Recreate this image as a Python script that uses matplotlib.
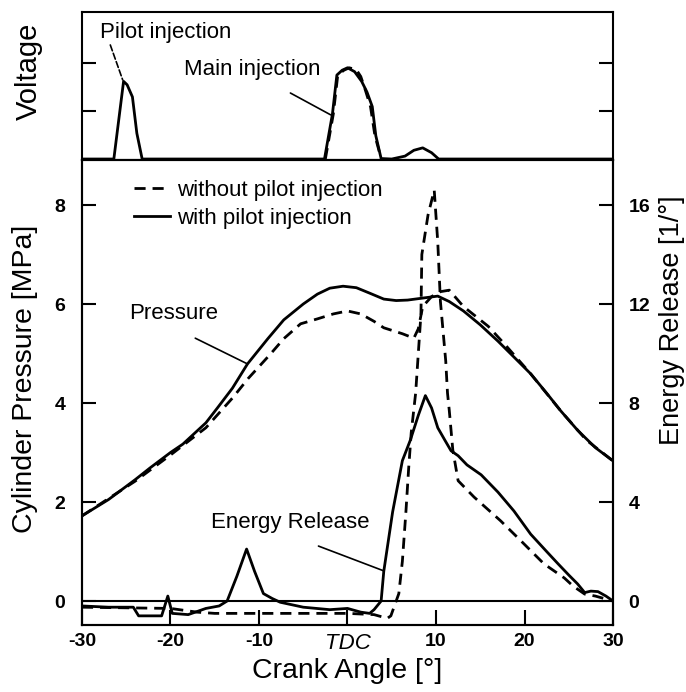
import numpy as np
import matplotlib
matplotlib.use("Agg")
import matplotlib.pyplot as plt

plt.rcParams['font.family'] = ['Liberation Sans', 'DejaVu Sans']

# --- voltage trace (top panel) ---
volt_crank = [-30, -26.4, -25.3, -24.9, -24.3, -23.8, -23.2, -2.6, -1.7, -1.2, -0.6, 0.0,
              0.8, 1.6, 2.2, 2.8, 3.2, 3.8, 5.0, 6.5, 7.5, 8.5, 9.5, 10.3, 30]
volt_pilot = [0.02, 0.02, 1.62, 1.55, 1.3, 0.55, 0.02, 0.02, 0.95, 1.75, 1.85, 1.9,
              1.82, 1.62, 1.4, 1.1, 0.5, 0.03, 0.02, 0.08, 0.2, 0.25, 0.15, 0.02, 0.02]
volt_crank_nop = [-2.5, -1.6, -1.1, -0.4, 0.2, 1.0, 1.5, 2.0, 2.6, 3.1, 3.8]
volt_nopilot = [0.02, 0.95, 1.75, 1.85, 1.9, 1.86, 1.72, 1.45, 1.1, 0.5, 0.03]

# --- cylinder pressure [MPa] ---
p_crank = [-30, -27, -24, -22.3, -20, -18.6, -16, -14.7, -13, -11.3, -9, -7.2, -5, -3.4,
           -2, -0.5, 1, 2.5, 4.1, 5.5, 6.8, 8.5, 10.2, 11.5, 13.1, 15, 17, 18.8, 20.7,
           22.5, 24.1, 26, 28, 30]
p_pilot = [1.72, 2.05, 2.45, 2.69, 3.0, 3.17, 3.6, 3.9, 4.3, 4.79, 5.3, 5.68, 6.0, 6.2,
           6.32, 6.36, 6.33, 6.22, 6.1, 6.07, 6.08, 6.12, 6.16, 6.05, 5.86, 5.58, 5.25,
           4.93, 4.59, 4.2, 3.84, 3.45, 3.1, 2.83]
p_crank_nop = [-30, -24, -20, -16, -13, -11.2, -8.7, -7.2, -5.3, -3.4, -1.6, 0, 1.5, 3,
               4.1, 6.2, 7.5, 8.0, 8.5, 9.5, 10.5, 11.5, 13.1, 15.9, 17.7, 20.7, 24.1,
               27, 30]
p_nopilot = [1.72, 2.42, 2.95, 3.5, 4.1, 4.5, 4.99, 5.3, 5.6, 5.7, 5.8, 5.86, 5.8, 5.65,
             5.52, 5.4, 5.31, 5.5, 5.95, 6.15, 6.25, 6.28, 5.95, 5.55, 5.2, 4.59, 3.84,
             3.25, 2.83]

# --- energy release [1/deg] ---
e_crank = [-30, -27, -24.2, -23.6, -21, -20.3, -19.8, -18, -16, -14.5, -13.6, -12.5,
           -11.4, -10.5, -9.5, -8.5, -7.6, -5, -2, 0, 1.5, 2.5, 3.0, 3.8, 4.1, 5.1, 6.2,
           7.1, 8.0, 8.8, 9.5, 10.2, 11.0, 11.7, 12.5, 13.5, 15.1, 17, 18.8, 20.7, 22.5,
           23.8, 25, 26, 26.8, 27.5, 28.3, 29.2, 30]
e_pilot = [-0.2, -0.25, -0.25, -0.6, -0.6, 0.2, -0.5, -0.55, -0.3, -0.2, 0.0, 1.0,
           2.1, 1.2, 0.3, 0.1, -0.05, -0.25, -0.35, -0.3, -0.45, -0.5, -0.35, 0.0, 1.2,
           3.6, 5.67, 6.5, 7.5, 8.3, 7.8, 7.0, 6.5, 6.07, 5.87, 5.5, 5.1, 4.4, 3.64, 2.7,
           2.0, 1.5, 1.05, 0.69, 0.34, 0.4, 0.38, 0.2, 0.0]
e_crank_nop = [-30, -20, -17, -15, 0, 3, 4.5, 4.9, 5.8, 6.2, 6.6, 6.9, 7.2, 7.7, 8.3, 8.4,
               9.1, 9.8, 10.2, 10.5, 11.1, 11.3, 11.5, 11.9, 12.5, 14.3, 17.3, 19.6,
               22.2, 24.5, 25.5, 26.8, 28, 30]
e_nopilot = [-0.25, -0.3, -0.45, -0.5, -0.5, -0.55, -0.7, -0.6, 0.3, 1.6, 3.6, 5.3, 6.8,
             8.4, 11.6, 14.0, 15.6, 16.6, 14.5, 12.1, 9.7, 8.4, 7.7, 6.1, 4.86, 4.2, 3.24,
             2.43, 1.5, 0.93, 0.6, 0.28, 0.2, 0.0]

x_ticks = [-30, -20, -10, 0, 10, 20, 30]
x_ticklabels = ['-30', '-20', '-10', 'TDC', '10', '20', '30']

lw = 2.0
dash = (4, 2.5)
ann_fs = 16
lab_fs = 20.5

fig = plt.figure(figsize=(6.86, 6.92), dpi=100)
ax0 = fig.add_axes([0.1195, 0.7688, 0.7741, 0.2139])
ax = fig.add_axes([0.1195, 0.0968, 0.7741, 0.672], sharex=ax0)
ax2 = ax.twinx()

# top panel
ax0.plot(volt_crank, volt_pilot, color='black', lw=lw)
ax0.plot(volt_crank_nop, volt_nopilot, color='black', lw=lw, ls='--', dashes=dash)
ax0.set_ylim(0, 3.05)
ax0.set_yticks([1, 2])
ax0.set_yticklabels([])
ax0.tick_params(axis='y', direction='in', length=10, width=1.5, right=True)
ax0.tick_params(axis='x', bottom=False, labelbottom=False)
ax0.set_ylabel('Voltage', fontsize=21)
ax0.yaxis.set_label_coords(-0.074, 0.6)
ax0.text(-20.5, 2.62, 'Pilot injection', fontsize=ann_fs, ha='center', va='center')
ax0.annotate('', xy=(-25.4, 1.65), xytext=(-26.8, 2.37),
             arrowprops=dict(arrowstyle='-', color='black', lw=1.2, ls='--',
                             shrinkA=0, shrinkB=0))
ax0.text(-10.8, 1.86, 'Main injection', fontsize=ann_fs, ha='center', va='center')
ax0.annotate('', xy=(-1.9, 0.93), xytext=(-6.45, 1.38),
             arrowprops=dict(arrowstyle='-', color='black', lw=1.2,
                             shrinkA=0, shrinkB=0))

# bottom panel
ax.plot(p_crank, p_pilot, color='black', lw=lw, label='with pilot injection')
ax.plot(p_crank_nop, p_nopilot, color='black', lw=lw, ls='--', dashes=dash,
        label='without pilot injection')
ax2.plot(e_crank, e_pilot, color='black', lw=lw)
ax2.plot(e_crank_nop, e_nopilot, color='black', lw=lw, ls='--', dashes=dash)
ax2.axhline(0, color='black', lw=1.5)

ax.set_xlim(-30, 30)
ax.set_ylim(-0.485, 8.91)
ax2.set_ylim(-0.97, 17.82)
ax.set_yticks([0, 2, 4, 6, 8])
ax2.set_yticks([0, 4, 8, 12, 16])
ax.set_xticks(x_ticks)
ax.set_xticklabels(x_ticklabels)
for t in ax.get_xticklabels():
    if t.get_text() == 'TDC':
        t.set_fontstyle('italic')
        t.set_fontsize(16)
    else:
        t.set_fontweight('bold')
        t.set_fontsize(14)
for t in ax.get_yticklabels() + ax2.get_yticklabels():
    t.set_fontweight('bold')
    t.set_fontsize(14)

ax.tick_params(axis='x', direction='in', length=11, width=1.5, pad=6, top=False)
ax.tick_params(axis='y', direction='in', length=10, width=1.5, pad=12)
ax2.tick_params(axis='y', direction='in', length=10, width=1.5, pad=11)

ax.set_xlabel('Crank Angle [°]', fontsize=lab_fs)
ax.xaxis.set_label_coords(0.5, -0.072)
ax.set_ylabel('Cylinder Pressure [MPa]', fontsize=lab_fs)
ax.yaxis.set_label_coords(-0.083, 0.53)
ax2.set_ylabel('Energy Release [1/°]', fontsize=19.5)
ax2.yaxis.set_label_coords(1.086, 0.655)

ax.text(-19.6, 5.8, 'Pressure', fontsize=ann_fs, ha='center', va='center')
ax.annotate('', xy=(-11.3, 4.79), xytext=(-17.2, 5.31),
            arrowprops=dict(arrowstyle='-', color='black', lw=1.2,
                            shrinkA=0, shrinkB=0))
ax.text(-6.5, 1.58, 'Energy Release', fontsize=ann_fs, ha='center', va='center')
ax.annotate('', xy=(4.08, 0.61), xytext=(-3.28, 1.11),
            arrowprops=dict(arrowstyle='-', color='black', lw=1.2,
                            shrinkA=0, shrinkB=0))

h, l = ax.get_legend_handles_labels()
ax.legend(h[::-1], l[::-1], loc='upper left', bbox_to_anchor=(0.098, 0.957),
          frameon=False, fontsize=ann_fs, handlelength=1.6, handletextpad=0.35,
          labelspacing=0.32, borderpad=0, borderaxespad=0)

for a in (ax0, ax, ax2):
    for s in a.spines.values():
        s.set_linewidth(1.5)

fig.savefig('out.png', dpi=100)
